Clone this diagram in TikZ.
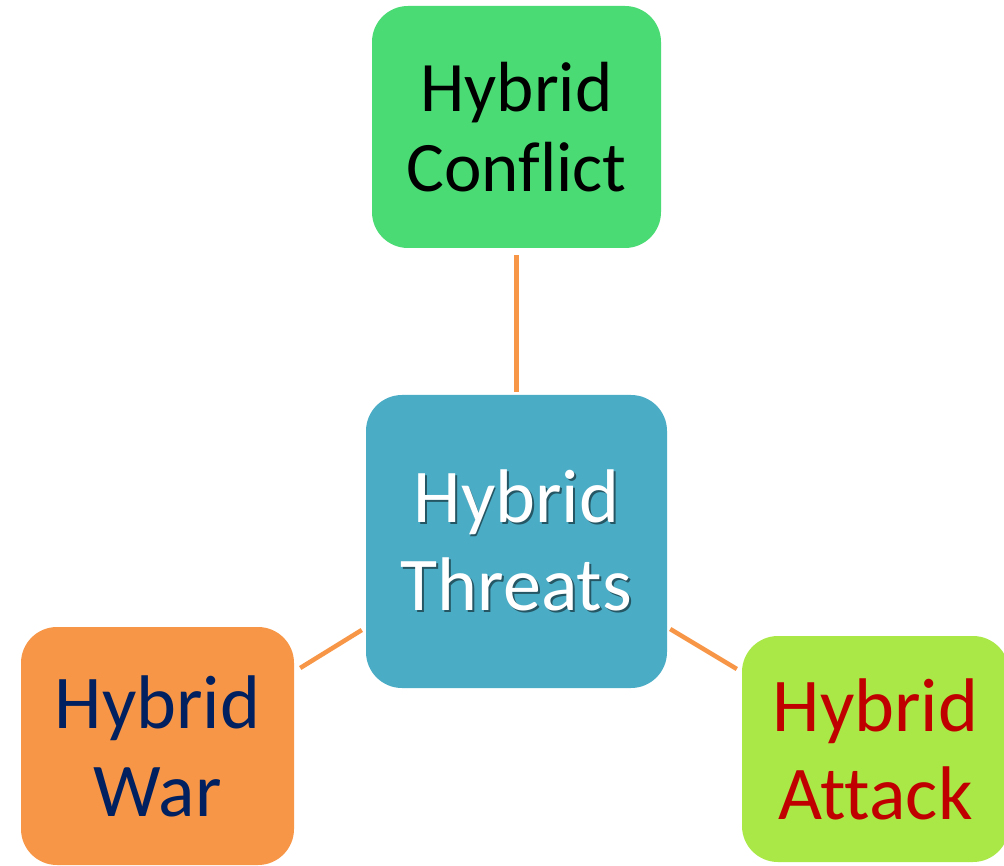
\documentclass[tikz,border=0pt]{standalone}
\usepackage{fontspec}
\setmainfont{Carlito}[Ligatures=NoCommon]
\definecolor{conflictgreen}{RGB}{74,219,116}
\definecolor{threatblue}{RGB}{75,172,198}
\definecolor{warorange}{RGB}{247,150,70}
\definecolor{attacklime}{RGB}{170,232,72}
\definecolor{navytext}{RGB}{0,32,96}
\definecolor{redtext}{RGB}{192,0,0}
\definecolor{linkorange}{RGB}{247,150,70}
\colorlet{textshadow}{black!50!threatblue}
% white word with a small drop shadow behind it
\newcommand{\shadowword}[1]{\leavevmode\rlap{\kern1.8pt\raisebox{-2pt}{\textcolor{textshadow}{#1}}}#1}
\tikzset{
  card/.style={rounded corners=36pt, inner sep=0pt, align=center},
  bigtext/.style={font=\fontsize{76}{88}\selectfont},
  smalltext/.style={font=\fontsize{71}{80}\selectfont},
  link/.style={draw=linkorange, line width=4.5pt}
}
\begin{document}
\begin{tikzpicture}[x=1pt,y=-1pt]
\useasboundingbox (0,0) rectangle (1004,866);

% boxes
\node[card, smalltext, fill=conflictgreen, text=black,
      minimum width=289pt, minimum height=242pt] (conflict) at (516.5,127) {Hybrid\\Conflict};
\node[card, bigtext, fill=threatblue, text=white,
      minimum width=301pt, minimum height=293pt] (threats) at (516.5,541.5)
      {\shadowword{Hybrid}\\\shadowword{Threats}};
\node[card, bigtext, fill=warorange, text=navytext,
      minimum width=273pt, minimum height=238pt] (war) at (157.5,746) {Hybrid\\War};
\node[card, bigtext, fill=attacklime, text=redtext,
      minimum width=267pt, minimum height=226pt] (attack) at (875.5,749) {Hybrid\\Attack};

% connector end points
\coordinate (warend) at ([xshift=6pt,yshift=78pt]war.east);
\coordinate (threatswest) at ([xshift=-4pt,yshift=-88.5pt]threats.west);
\coordinate (threatseast) at ([xshift=3pt,yshift=-87.5pt]threats.east);
\coordinate (attackend) at ([xshift=-5pt,yshift=80pt]attack.west);

% connectors
\draw[link, shorten <=7pt, shorten >=3pt] (conflict.south) -- (threats.north);
\draw[link] (warend) -- (threatswest);
\draw[link] (threatseast) -- (attackend);
\end{tikzpicture}
\end{document}
